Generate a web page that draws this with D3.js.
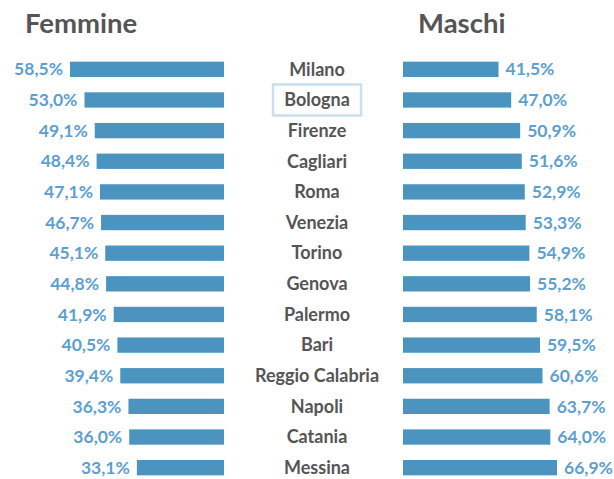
<!DOCTYPE html>
<meta charset="utf-8">
<style>
	body { margin: 0; background: #fff; font-family: Lato, "Open Sans", sans-serif; }
	.title { font-size: 27.5px; font-weight: bold; fill: #555; }
	.city { font-size: 18px; font-weight: bold; fill: #555; }
	.val { font-size: 17.5px; font-weight: bold; fill: #5da0cf; }
</style>
<body>
<script src="https://d3js.org/d3.v7.min.js"></script>
<script>
var cities = ["Milano", "Bologna", "Firenze", "Cagliari", "Roma", "Venezia", "Torino", "Genova", "Palermo", "Bari", "Reggio Calabria", "Napoli", "Catania", "Messina"];
var femmine = [58.5, 53.0, 49.1, 48.4, 47.1, 46.7, 45.1, 44.8, 41.9, 40.5, 39.4, 36.3, 36.0, 33.1];
var maschi = [41.5, 47.0, 50.9, 51.6, 52.9, 53.3, 54.9, 55.2, 58.1, 59.5, 60.6, 63.7, 64.0, 66.9];
var highlight = "Bologna";

var width = 614, height = 479;
var fmt = function(v) { return d3.format(".1f")(v).replace(".", ",") + "%"; };

var svg = d3.select("body").append("svg")
	.attr("width", width)
	.attr("height", height);

var y = d3.scaleBand()
	.domain(cities)
	.range([54, 483])
	.paddingInner(0.5)
	.paddingOuter(0.25);

var xf = d3.scaleLinear().domain([0, d3.max(femmine)]).range([224, 70]);
var xm = d3.scaleLinear().domain([0, d3.max(maschi)]).range([403, 557]);

svg.append("text").attr("class", "title").attr("x", 25).attr("y", 33).text("Femmine");
svg.append("text").attr("class", "title").attr("x", 418).attr("y", 33).text("Maschi");

var row = svg.selectAll(".row")
	.data(cities)
	.enter().append("g")
	.attr("class", "row");

// female bars
row.append("rect")
	.attr("x", function(d, i) { return xf(femmine[i]); })
	.attr("y", function(d) { return y(d); })
	.attr("width", function(d, i) { return xf(0) - xf(femmine[i]); })
	.attr("height", y.bandwidth())
	.attr("fill", "#4a94bf");

row.append("text")
	.attr("class", "val")
	.attr("x", function(d, i) { return xf(femmine[i]) - 7; })
	.attr("y", function(d) { return y(d) + y.bandwidth() / 2; })
	.attr("dy", "0.35em")
	.attr("text-anchor", "end")
	.text(function(d, i) { return fmt(femmine[i]); });

// male bars
row.append("rect")
	.attr("x", xm(0))
	.attr("y", function(d) { return y(d); })
	.attr("width", function(d, i) { return xm(maschi[i]) - xm(0); })
	.attr("height", y.bandwidth())
	.attr("fill", "#4a94bf");

row.append("text")
	.attr("class", "val")
	.attr("x", function(d, i) { return xm(maschi[i]) + 7; })
	.attr("y", function(d) { return y(d) + y.bandwidth() / 2; })
	.attr("dy", "0.35em")
	.text(function(d, i) { return fmt(maschi[i]); });

// city highlight box
svg.append("rect")
	.attr("x", 273)
	.attr("y", y(highlight) + y.bandwidth() / 2 - 15.5)
	.attr("width", 88)
	.attr("height", 31)
	.attr("fill", "none")
	.attr("stroke", "#c8dff0")
	.attr("stroke-width", 2.5);

row.append("text")
	.attr("class", "city")
	.attr("x", 317)
	.attr("y", function(d) { return y(d) + y.bandwidth() / 2; })
	.attr("dy", "0.35em")
	.attr("text-anchor", "middle")
	.text(function(d) { return d; });
</script>
</body>
